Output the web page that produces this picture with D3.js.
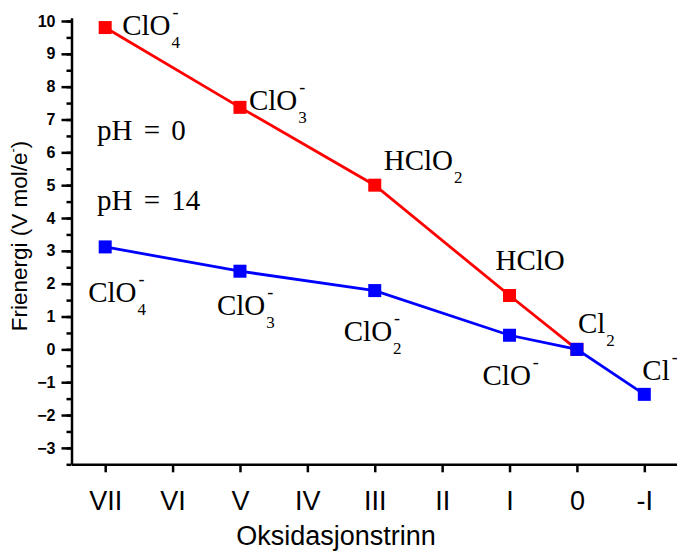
<!DOCTYPE html>
<html>
<head>
<meta charset="utf-8">
<script src="https://cdn.jsdelivr.net/npm/d3@7"></script>
<style>
  body { margin: 0; background: #fff; }
  .axis path, .axis line { stroke: #000; stroke-width: 2.5; }
  .y-axis text { font: bold 16px "Liberation Sans", Arial, sans-serif; fill: #000; }
  .x-axis text { font: 27px "Liberation Sans", Arial, sans-serif; fill: #000; }
  .title { font-family: "Liberation Sans", Arial, sans-serif; fill: #000; }
  .chem { font-family: "Liberation Serif", "Times New Roman", serif; fill: #000; }
</style>
</head>
<body>
<div id="chart"></div>
<script>
const width = 677;
const height = 552;

// oxidation states on the x axis
const oxStates = [7, 6, 5, 4, 3, 2, 1, 0, -1];
const oxLabels = ["VII", "VI", "V", "IV", "III", "II", "I", "0", "-I"];

// pH = 0 (red)
const acidStates = [7, 5, 3, 1, 0];
const acidValues = [9.8, 7.37, 5.0, 1.64, 0];
const acidNames = [
  { base: "ClO", sub: "4", sup: "-" },
  { base: "ClO", sub: "3", sup: "-" },
  { base: "HClO", sub: "2", sup: "" },
  { base: "HClO", sub: "", sup: "" },
  { base: "Cl", sub: "2", sup: "" },
];

// pH = 14 (blue)
const baseStates = [7, 5, 3, 1, 0, -1];
const baseValues = [3.12, 2.38, 1.79, 0.43, 0, -1.37];
const baseNames = [
  { base: "ClO", sub: "4", sup: "-" },
  { base: "ClO", sub: "3", sup: "-" },
  { base: "ClO", sub: "2", sup: "-" },
  { base: "ClO", sub: "", sup: "-" },
  { base: "", sub: "", sup: "" },
  { base: "Cl", sub: "", sup: "-" },
];

const yTicks = d3.range(-3, 11);
const yMinorTicks = d3.range(-3.5, 10.01, 0.5);

let svg;
let xScale;
let yScale;

function createChart() {
  svg = d3.select("#chart").append("svg")
    .attr("width", width)
    .attr("height", height);

  xScale = d3.scaleLinear().domain([7.5, -1.5]).range([71.5, 678]);
  yScale = d3.scaleLinear().domain([-3.5, 10.1]).range([464.3, 17.7]);

  drawAxes();
  drawSeries(acidStates, acidValues, "#ff0000");
  drawSeries(baseStates, baseValues, "#0000ff");

  // annotation offsets relative to each point (dx, dy to baseline)
  const acidOffsets = [[17, 7], [9, 3], [9, -15], [-14, -26], [1, -16]];
  const baseOffsets = [[-17, 55], [-23, 44], [-31, 50], [-27, 50], [0, 0], [-2, -14]];
  drawLabels(acidStates, acidValues, acidNames, acidOffsets);
  drawLabels(baseStates, baseValues, baseNames, baseOffsets);

  svg.append("text").attr("class", "chem")
    .attr("x", 97).attr("y", 140).attr("font-size", 29)
    .attr("word-spacing", 4).text("pH = 0");
  svg.append("text").attr("class", "chem")
    .attr("x", 97).attr("y", 210).attr("font-size", 29)
    .attr("word-spacing", 4).text("pH = 14");
}

function drawAxes() {
  const yMinor = svg.append("g").attr("class", "axis")
    .attr("transform", `translate(${xScale.range()[0]},0)`)
    .call(d3.axisLeft(yScale).tickValues(yMinorTicks).tickSize(5).tickSizeOuter(0).tickFormat(""));
  yMinor.select(".domain").remove();

  svg.append("g").attr("class", "axis y-axis")
    .attr("transform", `translate(${xScale.range()[0]},0)`)
    .call(d3.axisLeft(yScale).tickValues(yTicks).tickSize(10).tickSizeOuter(0).tickPadding(6));

  svg.append("g").attr("class", "axis x-axis")
    .attr("transform", `translate(0,${yScale.range()[0]})`)
    .call(d3.axisBottom(xScale).tickValues(oxStates).tickSize(8).tickSizeOuter(0).tickPadding(19)
      .tickFormat((d, i) => oxLabels[i]));

  svg.append("text").attr("class", "title")
    .attr("x", 336).attr("y", 545)
    .attr("text-anchor", "middle").attr("font-size", 27)
    .text("Oksidasjonstrinn");

  const yTitle = svg.append("text").attr("class", "title")
    .attr("transform", "translate(27,236) rotate(-90)")
    .attr("text-anchor", "middle").attr("font-size", 22.5);
  yTitle.append("tspan").text("Frienergi (V mol/e");
  yTitle.append("tspan").attr("font-size", 13).attr("dy", -10).text("-");
  yTitle.append("tspan").attr("dy", 10).text(")");
}

function drawSeries(states, values, color) {
  const pts = states.map((s, i) => [s, values[i]]);
  svg.append("path")
    .datum(pts)
    .attr("fill", "none")
    .attr("stroke", color)
    .attr("stroke-width", 2.8)
    .attr("d", d3.line().x((d) => xScale(d[0])).y((d) => yScale(d[1])));

  svg.selectAll(null)
    .data(pts)
    .enter()
    .append("rect")
    .attr("x", (d) => xScale(d[0]) - 6.5)
    .attr("y", (d) => yScale(d[1]) - 6.5)
    .attr("width", 13)
    .attr("height", 13)
    .attr("fill", color);
}

function drawLabels(states, values, names, offsets) {
  names.forEach((n, i) => {
    if (!n.base) return;
    const x = xScale(states[i]) + offsets[i][0];
    const y = yScale(values[i]) + offsets[i][1];
    const t = svg.append("text").attr("class", "chem")
      .attr("x", x).attr("y", y).attr("font-size", 29).text(n.base);
    const w = t.node().getComputedTextLength();
    if (n.sub) {
      svg.append("text").attr("class", "chem")
        .attr("x", x + w + 1).attr("y", y + 13).attr("font-size", 17).text(n.sub);
    }
    if (n.sup) {
      svg.append("text").attr("class", "chem")
        .attr("x", x + w + 2).attr("y", y - 17).attr("font-size", 18).text(n.sup);
    }
  });
}

createChart();
</script>
</body>
</html>
